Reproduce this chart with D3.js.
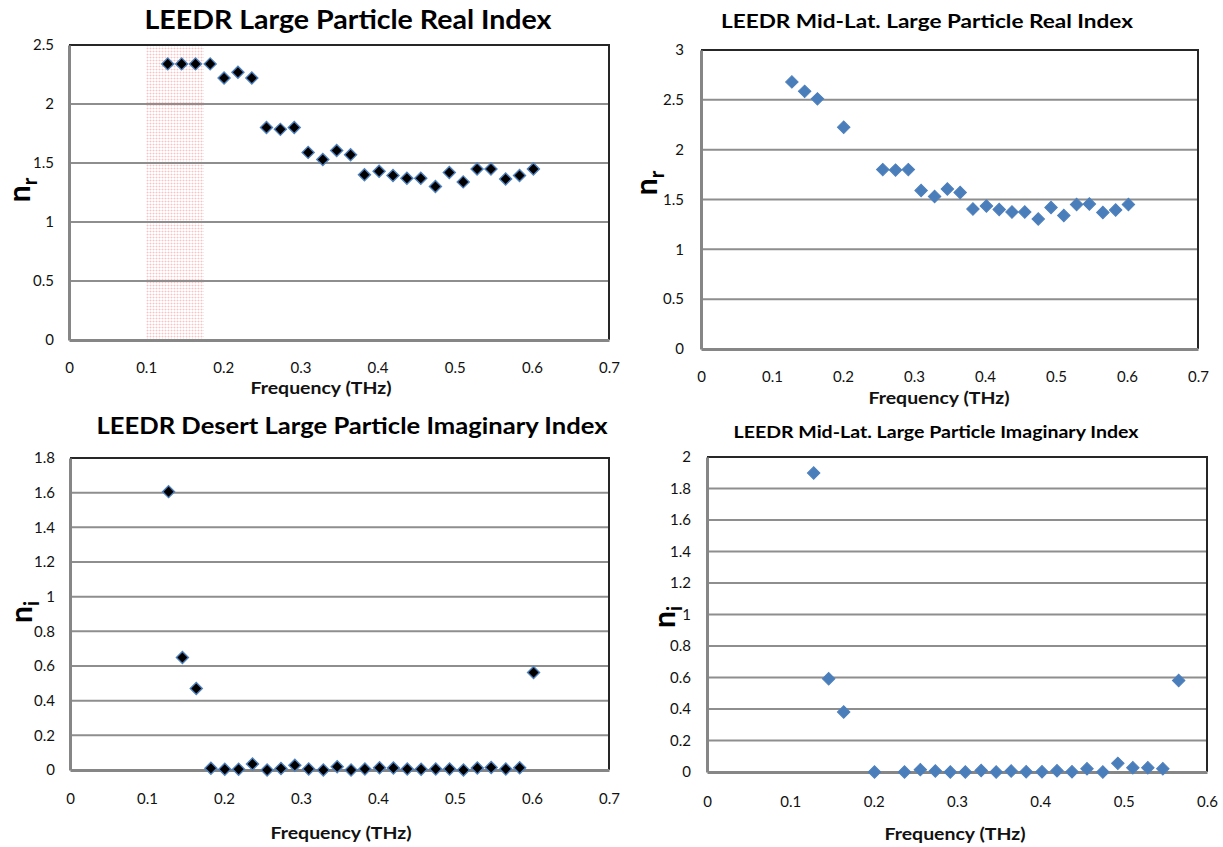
<!DOCTYPE html>
<html>
<head>
<meta charset="utf-8">
<script src="https://cdn.jsdelivr.net/npm/d3@7"></script>
<style>
  html, body { margin: 0; padding: 0; background: #ffffff; }
  svg { display: block; font-family: Lato, "Open Sans", "DejaVu Sans", sans-serif; }
</style>
</head>
<body>
<svg id="chart" width="1223" height="847"></svg>
<script>
// Frequencies (THz)
const freqAll = [0.128, 0.146, 0.164, 0.183, 0.201, 0.219, 0.237, 0.256, 0.274, 0.292,
                 0.310, 0.329, 0.347, 0.365, 0.383, 0.402, 0.420, 0.438, 0.456, 0.475,
                 0.493, 0.511, 0.529, 0.547, 0.566, 0.584, 0.602];

// Desert large particle, real index
const desertReal = [2.34, 2.34, 2.34, 2.34, 2.22, 2.27, 2.22, 1.80, 1.785, 1.80,
                    1.59, 1.53, 1.605, 1.57, 1.40, 1.43, 1.395, 1.37, 1.37, 1.30,
                    1.42, 1.34, 1.45, 1.45, 1.365, 1.395, 1.45];

// Mid-latitude large particle, real index
const midLatRealFreq = [0.128, 0.146, 0.164, 0.201, 0.256, 0.274, 0.292, 0.310, 0.329, 0.347,
                        0.365, 0.383, 0.402, 0.420, 0.438, 0.456, 0.475, 0.493, 0.511, 0.529,
                        0.547, 0.566, 0.584, 0.602];
const midLatReal = [2.68, 2.585, 2.51, 2.225, 1.80, 1.795, 1.80, 1.59, 1.53, 1.605,
                    1.57, 1.405, 1.435, 1.40, 1.375, 1.375, 1.305, 1.42, 1.34, 1.45,
                    1.455, 1.37, 1.395, 1.45];

// Desert large particle, imaginary index
const desertImag = [1.606, 0.649, 0.470, 0.010, 0.004, 0.004, 0.035, 0.0, 0.008, 0.027,
                    0.006, 0.0, 0.019, 0.0, 0.006, 0.013, 0.012, 0.006, 0.004, 0.006,
                    0.006, 0.0, 0.012, 0.015, 0.006, 0.013, 0.562];

// Mid-latitude large particle, imaginary index
const midLatImagFreq = [0.128, 0.146, 0.164, 0.201, 0.237, 0.256, 0.274, 0.292, 0.310, 0.329,
                        0.347, 0.365, 0.383, 0.402, 0.420, 0.438, 0.456, 0.475, 0.493, 0.511,
                        0.529, 0.547, 0.566];
const midLatImag = [1.898, 0.592, 0.381, 0.0, 0.0, 0.015, 0.006, 0.0, 0.0, 0.010,
                    0.0, 0.006, 0.002, 0.002, 0.008, 0.002, 0.021, 0.0, 0.055, 0.027,
                    0.027, 0.021, 0.581];

// Axis ticks
const xTicks07 = [0, 0.1, 0.2, 0.3, 0.4, 0.5, 0.6, 0.7];
const xTicks06 = [0, 0.1, 0.2, 0.3, 0.4, 0.5, 0.6];
const yTicksReal25 = [0, 0.5, 1, 1.5, 2, 2.5];
const yTicksReal3 = [0, 0.5, 1, 1.5, 2, 2.5, 3];
const yTicksImag18 = [0, 0.2, 0.4, 0.6, 0.8, 1, 1.2, 1.4, 1.6, 1.8];
const yTicksImag2 = [0, 0.2, 0.4, 0.6, 0.8, 1, 1.2, 1.4, 1.6, 1.8, 2];

// Highlighted frequency band on the desert real-index plot
const bandRange = [0.1, 0.175];

const svg = d3.select("#chart");

// faint dotted pink fill for the highlighted band
const defs = svg.append("defs");
const pat = defs.append("pattern")
  .attr("id", "dots").attr("patternUnits", "userSpaceOnUse")
  .attr("width", 3).attr("height", 3);
pat.append("rect").attr("width", 3).attr("height", 3).attr("fill", "#ffffff");
pat.append("rect").attr("width", 1).attr("height", 1).attr("fill", "#f6c4c4");
pat.append("rect").attr("x", 1).attr("width", 2).attr("height", 1).attr("fill", "#fde6e6");
pat.append("rect").attr("y", 1).attr("width", 1).attr("height", 2).attr("fill", "#fdeaea");

const fmt = d => String(+d.toFixed(2));

function drawPanel(p) {
  const x = d3.scaleLinear().domain(p.xDomain).range([p.left, p.right]);
  const y = d3.scaleLinear().domain(p.yDomain).range([p.bottom, p.top]);
  const g = svg.append("g");

  // band highlight
  if (p.band) {
    g.append("rect")
      .attr("x", x(p.band[0])).attr("y", p.top)
      .attr("width", x(p.band[1]) - x(p.band[0]))
      .attr("height", p.bottom - p.top)
      .attr("fill", "url(#dots)");
  }

  // horizontal gridlines
  g.append("g")
    .selectAll("line")
    .data(p.yTicks.filter(v => v !== p.yDomain[0] && v !== p.yDomain[1]))
    .join("line")
    .attr("x1", p.left).attr("x2", p.right)
    .attr("y1", d => y(d)).attr("y2", d => y(d))
    .attr("stroke", "#8e8e8e").attr("stroke-width", 2);

  // top / right frame
  g.append("path")
    .attr("d", `M${p.left},${p.top}H${p.right}V${p.bottom}`)
    .attr("fill", "none").attr("stroke", "#262626").attr("stroke-width", 2);

  // y axis
  const yAxis = g.append("g")
    .attr("transform", `translate(${p.left},0)`)
    .call(d3.axisLeft(y).tickValues(p.yTicks).tickFormat(fmt).tickSize(0).tickPadding(p.yPad));
  yAxis.select(".domain").attr("stroke", "#868686").attr("stroke-width", 3);
  yAxis.selectAll("text").attr("font-size", 15).attr("fill", "#111").attr("font-family", "Lato, sans-serif");

  // x axis
  const xAxis = g.append("g")
    .attr("transform", `translate(0,${p.bottom})`)
    .call(d3.axisBottom(x).tickValues(p.xTicks).tickFormat(fmt).tickSize(0).tickPadding(p.xPad));
  xAxis.select(".domain").attr("stroke", "#868686").attr("stroke-width", 3);
  xAxis.selectAll("text").attr("font-size", 15).attr("fill", "#111").attr("font-family", "Lato, sans-serif");

  // markers
  const sym = d3.symbol().type(d3.symbolSquare).size(p.markerSize);
  g.append("g")
    .selectAll("path")
    .data(p.xs.map((f, i) => [f, p.ys[i]]))
    .join("path")
    .attr("d", sym)
    .attr("transform", d => `translate(${x(d[0])},${y(d[1])}) rotate(45)`)
    .attr("fill", p.fill)
    .attr("stroke", p.stroke)
    .attr("stroke-width", p.strokeWidth);

  // title
  svg.append("text")
    .attr("x", p.titleX).attr("y", p.titleY)
    .attr("text-anchor", "middle")
    .attr("font-weight", "bold")
    .attr("font-size", p.titleSize)
    .attr("textLength", p.titleWidth)
    .attr("lengthAdjust", "spacingAndGlyphs")
    .attr("fill", "#000")
    .text(p.title);

  // x axis title
  svg.append("text")
    .attr("x", p.xLabelX).attr("y", p.xLabelY)
    .attr("text-anchor", "middle")
    .attr("font-weight", "bold")
    .attr("font-size", 17)
    .attr("textLength", 141)
    .attr("lengthAdjust", "spacingAndGlyphs")
    .attr("fill", "#111")
    .text("Frequency (THz)");

  // y axis title (n with subscript)
  const yt = svg.append("text")
    .attr("transform", `translate(${p.yLabelX},${p.yLabelY}) rotate(-90)`)
    .attr("text-anchor", "middle")
    .attr("font-weight", "bold")
    .attr("font-size", 30)
    .attr("fill", "#000");
  yt.append("tspan").text("n");
  yt.append("tspan").attr("font-size", 20).attr("dy", 7).text(p.sub);
}

// Desert real index
drawPanel({
  left: 69, right: 609, top: 45, bottom: 340,
  xDomain: [0, 0.7], yDomain: [0, 2.5],
  xTicks: xTicks07, yTicks: yTicksReal25,
  xPad: 22, yPad: 15,
  xs: freqAll, ys: desertReal,
  fill: "#000000", stroke: "#4f81bd", strokeWidth: 1.4, markerSize: 72,
  band: bandRange,
  title: "LEEDR Large Particle Real Index", titleX: 348, titleY: 29, titleSize: 26, titleWidth: 407,
  xLabelX: 321, xLabelY: 394,
  yLabelX: 30, yLabelY: 190, sub: "r"
});

// Mid-latitude real index
drawPanel({
  left: 701, right: 1198, top: 50, bottom: 349,
  xDomain: [0, 0.7], yDomain: [0, 3],
  xTicks: xTicks07, yTicks: yTicksReal3,
  xPad: 22, yPad: 17,
  xs: midLatRealFreq, ys: midLatReal,
  fill: "#4a7ebb", stroke: "#4f81bd", strokeWidth: 1, markerSize: 78,
  band: null,
  title: "LEEDR Mid-Lat. Large Particle Real Index", titleX: 927, titleY: 28, titleSize: 19, titleWidth: 412,
  xLabelX: 939, xLabelY: 404,
  yLabelX: 657, yLabelY: 183, sub: "r"
});

// Desert imaginary index
drawPanel({
  left: 70, right: 609, top: 458, bottom: 770,
  xDomain: [0, 0.7], yDomain: [0, 1.8],
  xTicks: xTicks07, yTicks: yTicksImag18,
  xPad: 23, yPad: 15,
  xs: freqAll, ys: desertImag,
  fill: "#000000", stroke: "#4f81bd", strokeWidth: 1.4, markerSize: 72,
  band: null,
  title: "LEEDR Desert Large Particle Imaginary Index", titleX: 352, titleY: 434, titleSize: 22, titleWidth: 511,
  xLabelX: 341, xLabelY: 839,
  yLabelX: 32, yLabelY: 612, sub: "i"
});

// Mid-latitude imaginary index
drawPanel({
  left: 707, right: 1207, top: 457, bottom: 772,
  xDomain: [0, 0.6], yDomain: [0, 2],
  xTicks: xTicks06, yTicks: yTicksImag2,
  xPad: 24, yPad: 16,
  xs: midLatImagFreq, ys: midLatImag,
  fill: "#4a7ebb", stroke: "#4f81bd", strokeWidth: 1, markerSize: 78,
  band: null,
  title: "LEEDR Mid-Lat. Large Particle Imaginary Index", titleX: 936, titleY: 438, titleSize: 17, titleWidth: 405,
  xLabelX: 955, xLabelY: 840,
  yLabelX: 675, yLabelY: 617, sub: "i"
});
</script>
</body>
</html>
